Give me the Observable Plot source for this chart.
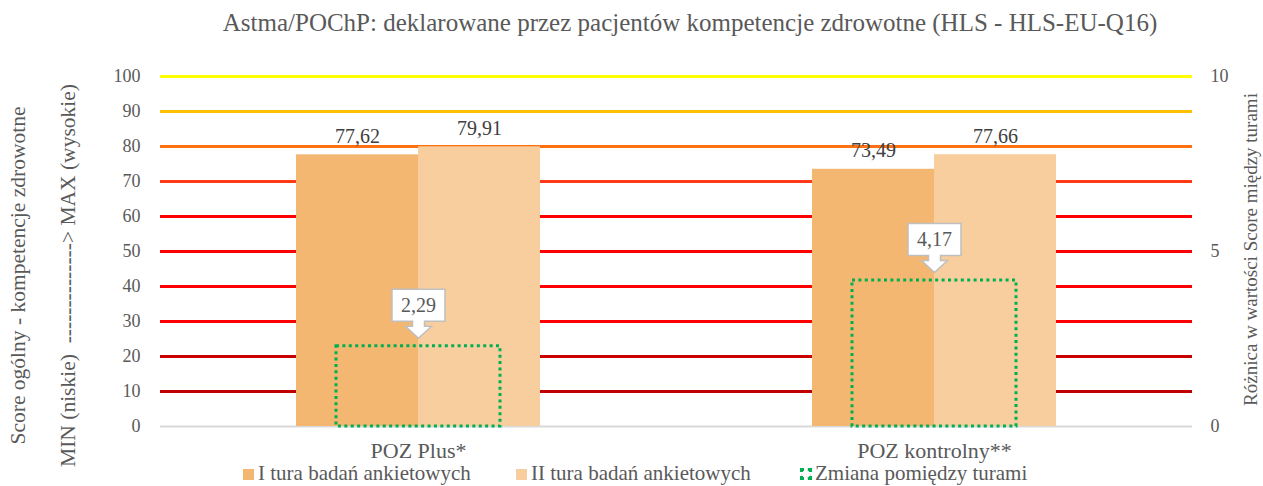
<!DOCTYPE html>
<html>
<head>
<meta charset="utf-8">
<script src="https://cdn.jsdelivr.net/npm/d3@7"></script>
<script src="https://cdn.jsdelivr.net/npm/@observablehq/plot@0.6"></script>
<style>
  html, body { margin: 0; padding: 0; background: #fff; }
  #wrap { position: relative; width: 1263px; height: 486px; overflow: hidden; font-family: 'Liberation Serif', 'Times New Roman', serif; color: #595959; }
  #title { position: absolute; top: 8px; left: 690px; transform: translateX(-50%); white-space: nowrap; font-size: 25px; line-height: 30px; color: #595959; }
  #chart { position: absolute; top: 0; left: 0; }
  .leg { position: absolute; top: 461px; font-size: 21px; line-height: 24px; white-space: nowrap; color: #595959; }
  .sw { position: absolute; left: 0; top: 8px; width: 11px; height: 11px; }
  .leg span.t { position: absolute; left: 15px; top: 0; }
</style>
</head>
<body>
<div id="wrap">
  <div id="title"></div>
  <div id="chart"></div>
</div>
<script>
// ---- data ----
const title = "Astma/POChP: deklarowane przez pacjentów kompetencje zdrowotne (HLS - HLS-EU-Q16)";
const categories = ["POZ Plus*", "POZ kontrolny**"];
const turaKeys = ["I", "II"];
const tura1 = [77.62, 73.49];
const tura2 = [79.91, 77.66];
const zmiana = [2.29, 4.17];
const seriesNames = ["I tura badań ankietowych", "II tura badań ankietowych", "Zmiana pomiędzy turami"];
const seriesColors = ["#F4B771", "#F8CE9E", "#00B050"];
const leftTicks = [0, 10, 20, 30, 40, 50, 60, 70, 80, 90, 100];
const gridColors = ["#D9D9D9", "#C00000", "#C80000", "#FF0000", "#FF0000", "#FF0000", "#FF0000", "#FF3A1A", "#FF7010", "#FFC000", "#FFFF00"];
const rightTicks = [0, 5, 10];
const leftTitle1 = "Score ogólny - kompetencje zdrowotne";
const leftTitle2 = "MIN (niskie)  --------------> MAX (wysokie)";
const rightTitle = "Różnica w wartości Score między turami";

// ---- tables ----
const bars = categories.flatMap((c, i) => [
  {cat: c, tura: turaKeys[0], v: tura1[i], color: seriesColors[0]},
  {cat: c, tura: turaKeys[1], v: tura2[i], color: seriesColors[1]}
]);
const changes = categories.map((c, i) => ({cat: c, v: zmiana[i]}));
const grid = leftTicks.map((t, i) => ({t, color: gridColors[i]}));
const fmt = v => d3.format(".2f")(v).replace(".", ",");
const RIGHT_FACTOR = 10; // right axis 0-10 maps onto left 0-100

const callout = {
  draw(ctx) {
    ctx.moveTo(-26.5, -57); ctx.lineTo(26.5, -57); ctx.lineTo(26.5, -25);
    ctx.lineTo(6, -25); ctx.lineTo(6, -20); ctx.lineTo(13, -20);
    ctx.lineTo(0, -8); ctx.lineTo(-13, -20); ctx.lineTo(-6, -20);
    ctx.lineTo(-6, -25); ctx.lineTo(-26.5, -25); ctx.closePath();
  }
};

const txt = "#595959";
const chart = Plot.plot({
  width: 1263,
  height: 486,
  marginTop: 76,
  marginBottom: 60,
  marginLeft: 160,
  marginRight: 71,
  style: {fontFamily: "'Liberation Serif', 'Times New Roman', serif", background: "transparent", overflow: "visible"},
  fx: {domain: categories, padding: 0, label: null},
  x: {domain: turaKeys, paddingInner: 0, paddingOuter: 1.106, axis: null},
  y: {domain: [0, 100], axis: null},
  color: {type: "identity"},
  marks: [
    Plot.ruleY(grid, {y: "t", stroke: "color", strokeWidth: d => d.t === 0 ? 2 : 3}),
    Plot.barY(bars, {fx: "cat", x: "tura", y: "v", fill: "color"}),
    Plot.text(bars, {fx: "cat", x: "tura", y: "v", text: d => fmt(d.v), dy: -12, lineAnchor: "bottom", fontSize: 20, fill: "#404040"}),
    Plot.barY(changes, {fx: "cat", y: d => d.v * RIGHT_FACTOR, fill: "none", stroke: seriesColors[2], strokeWidth: 3, strokeDasharray: "3,3.4", insetLeft: 176, insetRight: 176}),
    Plot.dot(changes, {fx: "cat", y: d => d.v * RIGHT_FACTOR, symbol: callout, r: 10, fill: "white", stroke: "#BFBFBF", strokeWidth: 1.5}),
    Plot.text(changes, {fx: "cat", y: d => d.v * RIGHT_FACTOR, text: d => fmt(d.v), dy: -41, fontSize: 20, fill: txt}),
    Plot.axisY(leftTicks, {anchor: "left", tickSize: 0, tickPadding: 20, fontSize: 18, fill: txt, label: null}),
    Plot.axisY(rightTicks.map(t => t * RIGHT_FACTOR), {anchor: "right", tickSize: 0, tickPadding: 18, fontSize: 18, fill: txt, label: null, tickFormat: d => d / RIGHT_FACTOR}),
    Plot.axisFx({anchor: "bottom", tickSize: 0, tickPadding: 16, fontSize: 22, fill: txt, label: null}),
    Plot.text([{fx: categories[0], s: leftTitle1}], {fx: "fx", text: "s", frameAnchor: "left", rotate: -90, dx: -142, dy: 24, fontSize: 21.5, fill: txt, textAnchor: "middle", lineAnchor: "middle"}),
    Plot.text([{fx: categories[0], s: leftTitle2}], {fx: "fx", text: "s", frameAnchor: "left", rotate: -90, dx: -92, dy: 24, fontSize: 21.5, fill: txt, textAnchor: "middle", lineAnchor: "middle"}),
    Plot.text([{fx: categories[1], s: rightTitle}], {fx: "fx", text: "s", frameAnchor: "right", rotate: -90, dx: 58, dy: -2, fontSize: 19, fill: txt, textAnchor: "middle", lineAnchor: "middle"})
  ]
});
document.getElementById("chart").appendChild(chart);
document.getElementById("title").textContent = title;

// legend
const legLefts = [243, 516, 800];
const wrap = document.getElementById("wrap");
seriesNames.forEach((name, i) => {
  const d = document.createElement("div");
  d.className = "leg";
  d.style.left = legLefts[i] + "px";
  const sw = document.createElement("div");
  sw.className = "sw";
  if (i < 2) sw.style.background = seriesColors[i];
  else { sw.style.border = "3px dotted " + seriesColors[i]; sw.style.width = "6px"; sw.style.height = "6px"; sw.style.boxSizing = "content-box"; sw.style.top = "7px"; }
  const t = document.createElement("span");
  t.className = "t";
  t.textContent = name;
  d.appendChild(sw); d.appendChild(t);
  wrap.appendChild(d);
});
</script>
</body>
</html>
